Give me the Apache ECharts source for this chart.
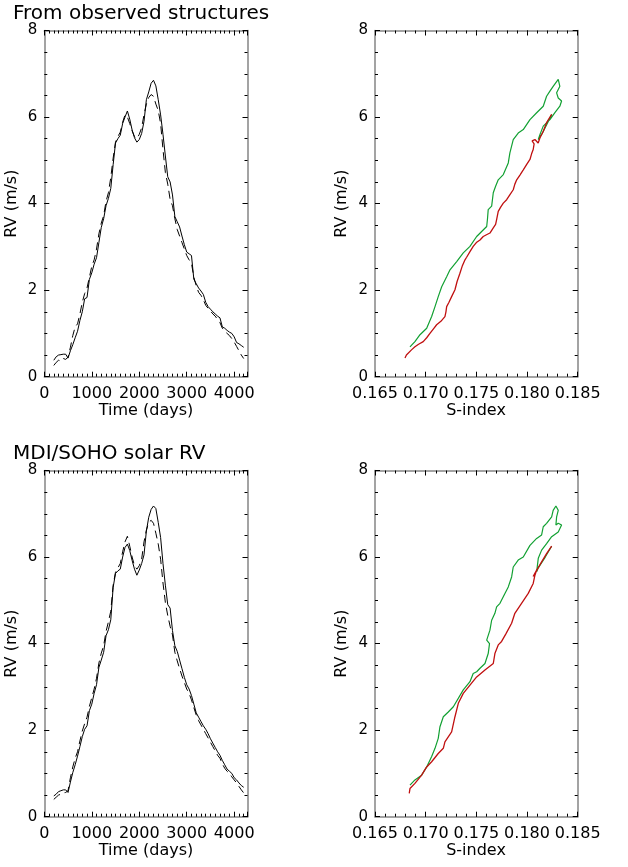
<!DOCTYPE html>
<html>
<head>
<meta charset="utf-8">
<script src="https://cdn.jsdelivr.net/npm/echarts@6/dist/echarts.min.js"></script>
<style>html,body{margin:0;padding:0;background:#fff}#c{width:628px;height:867px}</style>
</head>
<body>
<div id="c"></div>
<script>
// ---------- data ----------
const days = [200,250,300,350,400,450,500,550,600,650,700,750,800,850,900,950,1000,1050,1100,1150,1200,1250,1300,1350,1400,1450,1500,1550,1600,1650,1700,1750,1800,1850,1900,1950,2000,2050,2100,2150,2200,2250,2300,2350,2400,2450,2500,2550,2600,2650,2700,2750,2800,2850,2900,2950,3000,3050,3100,3150,3200,3250,3300,3350,3400,3450,3500,3550,3600,3650,3700,3750,3800,3850,3900,3950,4000,4050,4100,4150,4200];

const rvObsSolid = [0.38,0.46,0.50,0.51,0.52,0.52,0.43,0.60,0.74,0.90,1.05,1.30,1.50,1.80,1.83,2.25,2.40,2.60,2.75,3.10,3.45,3.65,3.95,4.12,4.35,4.90,5.40,5.50,5.58,5.85,6.00,6.14,5.95,5.70,5.52,5.42,5.48,5.62,5.90,6.40,6.58,6.78,6.85,6.72,6.40,6.05,5.60,5.10,4.62,4.50,4.20,3.70,3.58,3.46,3.25,3.05,2.88,2.84,2.80,2.25,2.15,2.05,1.98,1.90,1.72,1.62,1.56,1.50,1.45,1.40,1.36,1.15,1.12,1.07,1.03,1.00,0.92,0.79,0.76,0.72,0.68];
const rvObsDashed = [0.26,0.33,0.38,0.36,0.42,0.40,0.45,0.68,0.95,1.15,1.22,1.45,1.72,1.92,2.05,2.30,2.55,2.70,2.95,3.30,3.55,3.72,4.05,4.25,4.60,5.05,5.42,5.55,5.65,5.88,6.05,6.00,5.85,5.68,5.55,5.50,5.60,5.75,6.05,6.30,6.45,6.52,6.48,6.30,6.15,5.85,5.25,4.72,4.45,4.10,3.95,3.65,3.40,3.25,3.10,2.95,2.80,2.70,2.62,2.30,2.10,1.95,1.88,1.78,1.65,1.58,1.52,1.45,1.40,1.32,1.25,1.12,1.05,1.00,0.95,0.88,0.80,0.70,0.60,0.50,0.42];

const rvSohoSolid = [0.48,0.52,0.58,0.60,0.62,0.62,0.56,0.80,1.02,1.20,1.40,1.62,1.85,2.02,2.10,2.45,2.60,2.85,3.05,3.45,3.62,3.80,4.18,4.32,4.55,5.30,5.62,5.68,5.72,6.00,6.22,6.30,6.15,5.92,5.72,5.58,5.70,5.85,6.05,6.60,6.92,7.10,7.18,7.12,6.80,6.45,5.85,5.35,4.90,4.82,4.30,3.95,3.82,3.62,3.42,3.22,3.05,2.95,2.80,2.60,2.40,2.30,2.20,2.10,2.02,1.92,1.80,1.70,1.60,1.50,1.42,1.30,1.20,1.10,1.05,1.00,0.90,0.85,0.78,0.72,0.68];
const rvSohoDashed = [0.40,0.45,0.50,0.52,0.55,0.56,0.60,0.90,1.15,1.35,1.50,1.75,1.98,2.15,2.30,2.55,2.75,2.95,3.20,3.55,3.78,3.95,4.28,4.50,4.75,5.35,5.65,5.75,5.85,6.12,6.35,6.48,6.25,6.00,5.80,5.72,5.80,5.95,6.35,6.62,6.80,6.85,6.78,6.55,6.30,5.95,5.40,4.95,4.65,4.40,4.20,3.80,3.60,3.42,3.25,3.10,2.95,2.85,2.70,2.52,2.35,2.22,2.12,2.02,1.92,1.82,1.72,1.62,1.52,1.42,1.35,1.22,1.12,1.05,1.00,0.92,0.85,0.78,0.70,0.62,0.55];

// S-index vs RV (red: rising branch, green: later branch)
const sObsRed  = [0.16796,0.16810,0.16828,0.16860,0.16894,0.16930,0.16976,0.17010,0.17042,0.17075,0.17108,0.17150,0.17190,0.17200,0.17207,0.17230,0.17256,0.17289,0.17310,0.17338,0.17360,0.17388,0.17404,0.17437,0.17469,0.17500,0.17536,0.17568,0.17600,0.17634,0.17667,0.17690,0.17700,0.17716,0.17740,0.17766,0.17799,0.17830,0.17864,0.17880,0.17898,0.17930,0.17963,0.18000,0.18029,0.18045,0.18061,0.18070,0.18050,0.18078,0.18110,0.18128,0.18160,0.18193,0.18243];
const rvObsRed = [0.43,0.50,0.53,0.62,0.69,0.75,0.81,0.90,1.00,1.10,1.20,1.28,1.39,1.50,1.62,1.72,1.85,2.01,2.20,2.39,2.55,2.70,2.76,2.89,3.01,3.10,3.16,3.24,3.28,3.32,3.44,3.52,3.63,3.82,3.92,4.01,4.09,4.20,4.32,4.45,4.55,4.66,4.78,4.92,5.02,5.15,5.25,5.38,5.45,5.48,5.40,5.52,5.67,5.87,6.06];
const sObsGreen  = [0.18243,0.18200,0.18150,0.18111,0.18128,0.18160,0.18226,0.18275,0.18324,0.18341,0.18308,0.18292,0.18324,0.18308,0.18258,0.18226,0.18193,0.18160,0.18095,0.18029,0.17963,0.17913,0.17864,0.17831,0.17815,0.17766,0.17716,0.17690,0.17667,0.17651,0.17617,0.17610,0.17602,0.17550,0.17503,0.17437,0.17371,0.17306,0.17240,0.17207,0.17158,0.17124,0.17092,0.17059,0.17010,0.16944,0.16894,0.16845];
const rvObsGreen = [6.06,5.85,5.62,5.48,5.60,5.79,5.94,6.10,6.25,6.37,6.44,6.56,6.71,6.87,6.71,6.60,6.48,6.25,6.10,5.94,5.71,5.63,5.48,5.17,4.94,4.67,4.55,4.40,4.25,3.94,3.86,3.65,3.47,3.35,3.24,3.01,2.86,2.66,2.47,2.31,2.08,1.85,1.62,1.39,1.12,0.97,0.81,0.69];

const sSohoRed  = [0.16838,0.16845,0.16861,0.16894,0.16960,0.17010,0.17059,0.17124,0.17174,0.17190,0.17256,0.17289,0.17322,0.17371,0.17437,0.17503,0.17585,0.17667,0.17683,0.17716,0.17749,0.17790,0.17848,0.17880,0.17946,0.18012,0.18061,0.18078,0.18095,0.18060,0.18085,0.18144,0.18193,0.18243];
const rvSohoRed = [0.54,0.65,0.69,0.77,0.96,1.15,1.27,1.46,1.58,1.73,1.96,2.31,2.62,2.85,3.04,3.23,3.39,3.54,3.77,3.97,4.05,4.22,4.47,4.70,4.93,5.16,5.39,5.58,5.70,5.55,5.65,5.89,6.08,6.25];
const sSohoGreen  = [0.18243,0.18180,0.18111,0.18095,0.18111,0.18144,0.18193,0.18243,0.18308,0.18341,0.18308,0.18285,0.18292,0.18308,0.18285,0.18258,0.18243,0.18193,0.18160,0.18144,0.18095,0.18029,0.17963,0.17913,0.17864,0.17848,0.17815,0.17782,0.17733,0.17700,0.17683,0.17651,0.17634,0.17602,0.17630,0.17617,0.17585,0.17536,0.17503,0.17469,0.17437,0.17371,0.17273,0.17223,0.17174,0.17141,0.17124,0.17092,0.17059,0.17010,0.16960,0.16894,0.16845];
const rvSohoGreen = [6.25,6.00,5.75,5.66,5.97,6.16,6.31,6.47,6.58,6.74,6.78,6.74,6.93,7.08,7.18,7.08,6.93,6.78,6.70,6.51,6.43,6.27,6.00,5.93,5.77,5.54,5.31,5.16,4.93,4.85,4.70,4.54,4.31,4.08,4.00,3.77,3.54,3.43,3.35,3.31,3.12,2.93,2.54,2.42,2.31,2.08,1.81,1.58,1.39,1.15,0.96,0.85,0.73];

const timeTicks = [0,1000,2000,3000,4000];
const sTicks = ['0.165','0.170','0.175','0.180','0.185'];
const rvTicks = [0,2,4,6,8];

// ---------- layout ----------
const FONT = '"DejaVu Sans", sans-serif';
const grids = [
  {left:44.3, top:30.5, width:203.2, height:346.2},
  {left:375,  top:30.5, width:202.7, height:346.2},
  {left:44.3, top:470.5, width:203.2, height:346.2},
  {left:375,  top:470.5, width:202.7, height:346.2}
];
const FRAME = '#858585';
const xAxes = [], yAxes = [];
function addAxes(list, g, pos, min, max, major, minor, labelFmt, isX) {
  const base = {gridIndex:g, type:'value', min:min, max:max, splitLine:{show:false}, position:pos};
  const withLabel = (pos === 'bottom' || pos === 'left');
  const maj = Object.assign({}, base, {
    interval: major,
    axisLine:{show:true, onZero:false, lineStyle:{color:FRAME, width:1.5}},
    axisTick:{show:true, inside:true, length:5, lineStyle:{color:'#000', width:1}},
    axisLabel:{show:withLabel, formatter:labelFmt, color:'#000', fontFamily:FONT,
      fontSize: isX ? 16 : 15, margin: isX ? 9 : 7, showMaxLabel:true, showMinLabel:true}
  });
  const idx = list.length;
  list.push(maj);
  list.push(Object.assign({}, base, {
    interval: minor,
    axisLine:{show:false, onZero:false},
    axisTick:{show:true, inside:true, length:3, lineStyle:{color:'#000', width:1}},
    axisLabel:{show:false}
  }));
  return idx;
}
const fmtTime = v => (timeTicks.indexOf(Math.round(v)) >= 0 && Math.abs(v - Math.round(v)) < 1e-6) ? String(Math.round(v)) : '';
const fmtS = v => { const s = v.toFixed(3); return sTicks.indexOf(s) >= 0 ? s : ''; };
const fmtRV = v => (rvTicks.indexOf(v) >= 0 ? String(v) : '');

const xIdx = [], yIdx = [];
grids.forEach((gr, g) => {
  const isTime = (g % 2 === 0);
  if (isTime) {
    xIdx[g] = addAxes(xAxes, g, 'bottom', 0, 4280, 1000, 100, fmtTime, true);
    addAxes(xAxes, g, 'top', 0, 4280, 1000, 100, fmtTime, true);
  } else {
    xIdx[g] = addAxes(xAxes, g, 'bottom', 0.165, 0.185, 0.005, 0.001, fmtS, true);
    addAxes(xAxes, g, 'top', 0.165, 0.185, 0.005, 0.001, fmtS, true);
  }
  yIdx[g] = addAxes(yAxes, g, 'left', 0, 8, 2, 0.5, fmtRV, false);
  addAxes(yAxes, g, 'right', 0, 8, 2, 0.5, fmtRV, false);
});

function zip(a, b) { return a.map((v, i) => [v, b[i]]); }
function lineSeries(g, data, color, width, dash) {
  return {type:'line', xAxisIndex:xIdx[g], yAxisIndex:yIdx[g], data:data, showSymbol:false,
    symbol:'none', smooth:false, silent:true, clip:true,
    lineStyle:{color:color, width:width, type: dash || 'solid'}};
}
const GREEN = '#12a032', RED = '#c01010';
const series = [
  lineSeries(0, zip(days, rvObsSolid), '#000', 1),
  lineSeries(0, zip(days, rvObsDashed), '#000', 1, [8, 5]),
  lineSeries(1, zip(sObsGreen, rvObsGreen), GREEN, 1.2),
  lineSeries(1, zip(sObsRed, rvObsRed), RED, 1.3),
  lineSeries(2, zip(days, rvSohoSolid), '#000', 1),
  lineSeries(2, zip(days, rvSohoDashed), '#000', 1, [8, 5]),
  lineSeries(3, zip(sSohoGreen, rvSohoGreen), GREEN, 1.2),
  lineSeries(3, zip(sSohoRed, rvSohoRed), RED, 1.3)
];

function txt(str, x, y, size, opts) {
  return Object.assign({type:'text', x:x, y:y, silent:true,
    style:{text:str, font: size + 'px ' + FONT, fill:'#000', align:'center', verticalAlign:'middle'}}, opts || {});
}
const graphics = [
  Object.assign(txt('From observed structures', 13, 14, 20), {}),
  txt('MDI/SOHO solar RV', 13, 454, 20),
  txt('RV (m/s)', 12, 203.6, 16, {rotation: Math.PI / 2}),
  txt('RV (m/s)', 342, 203.6, 16, {rotation: Math.PI / 2}),
  txt('RV (m/s)', 12, 643.6, 16, {rotation: Math.PI / 2}),
  txt('RV (m/s)', 342, 643.6, 16, {rotation: Math.PI / 2}),
  txt('Time (days)', 146, 411, 16),
  txt('S-index', 476, 411, 16),
  txt('Time (days)', 146, 851, 16),
  txt('S-index', 476, 851, 16)
];
graphics[0].style.align = 'left';
graphics[1].style.align = 'left';

const chart = echarts.init(document.getElementById('c'), null, {renderer:'canvas'});
chart.setOption({
  animation:false,
  backgroundColor:'#fff',
  grid: grids,
  xAxis: xAxes,
  yAxis: yAxes,
  series: series,
  graphic: graphics
});
</script>
</body>
</html>
